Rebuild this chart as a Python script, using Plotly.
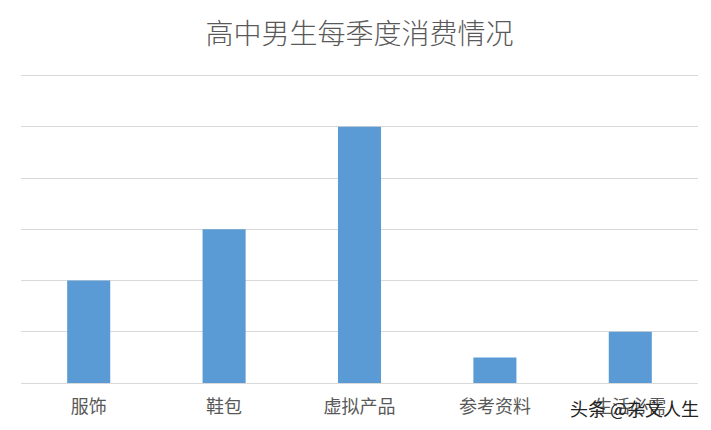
import plotly.graph_objects as go

# 高中男生每季度消费情况
categories = ["服饰", "鞋包", "虚拟产品", "参考资料", "生活必需"]
values = [2, 3, 5, 0.5, 1]

title_text = "高中男生每季度消费情况"
watermark = "头条 @杂文人生"

fig = go.Figure()
fig.add_trace(go.Bar(
    x=categories,
    y=values,
    marker=dict(color="#5B9BD5", line=dict(width=0)),
    hoverinfo="x+y",
))

# page body adds an 8px margin, so the figure is a bit smaller than the window
fig.update_layout(
    width=703,
    height=422,
    paper_bgcolor="white",
    plot_bgcolor="white",
    margin=dict(l=13, r=13, t=65, b=47),
    bargap=0.682,
    showlegend=False,
    font=dict(family="Noto Sans CJK SC, sans-serif", color="#595959"),
    title=dict(
        text=title_text,
        x=0.5, xanchor="center",
        y=0.938, yanchor="middle",
        font=dict(size=28, color="#595959", weight=300),
    ),
    xaxis=dict(
        showgrid=False,
        showline=False,
        zeroline=False,
        ticks="",
        ticklabelstandoff=11,
        tickfont=dict(size=18, color="#595959"),
    ),
    yaxis=dict(
        range=[0, 6.05],  # a little headroom so the top gridline is drawn
        dtick=1,
        showgrid=True,
        gridcolor="#D9D9D9",
        gridwidth=1,
        zeroline=True,
        zerolinecolor="#D9D9D9",
        zerolinewidth=1,
        showticklabels=False,
        ticks="",
    ),
)

# watermark from the source image
fig.add_annotation(
    text=watermark,
    xref="paper", yref="paper",
    x=1.005, y=-0.081,
    xanchor="right", yanchor="middle",
    showarrow=False,
    font=dict(size=18, color="#222222"),
)

fig.write_html("out.html")
